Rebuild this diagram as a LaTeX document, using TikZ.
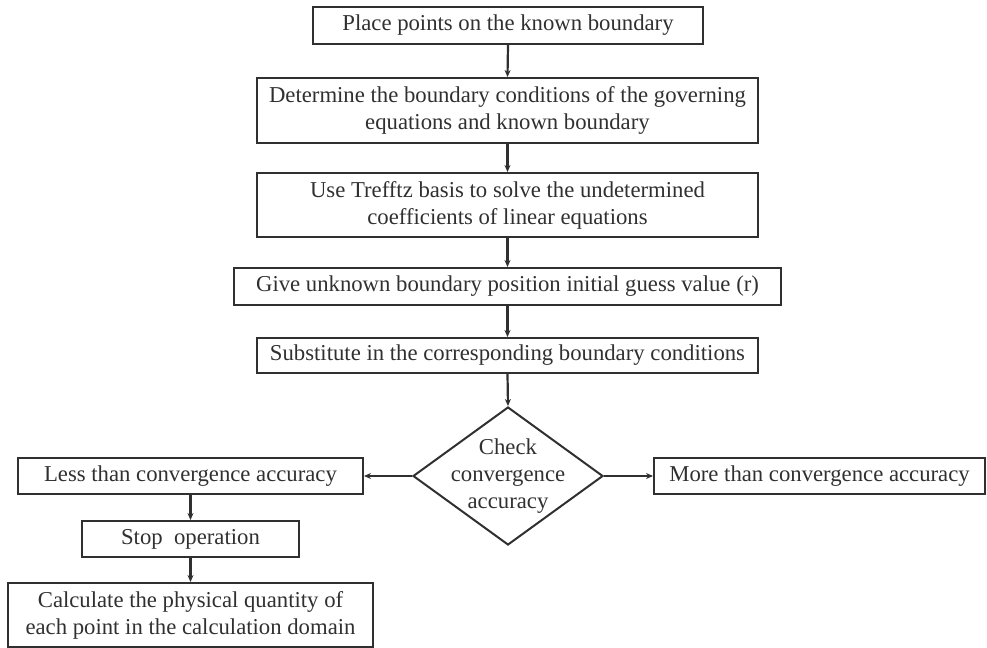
\documentclass[tikz,border=0pt]{standalone}
\usepackage{fontspec}
\setmainfont{Liberation Serif}
\usetikzlibrary{shapes.geometric,arrows.meta}
\definecolor{ink}{HTML}{303030}
\begin{document}
\begin{tikzpicture}[x=1bp,y=-1bp,
  txt/.style={text=ink,inner sep=0pt,align=center,font=\fontsize{22.8}{27}\selectfont},
  box/.style={txt,draw=ink,line width=2bp},
  dia/.style={draw=ink,line width=2bp,diamond,inner sep=0pt},
  arr/.style={draw=ink,line width=2.2bp,-{Stealth[length=7bp,width=6bp]}}]
\useasboundingbox (0,0) rectangle (987,648);
\node[box,minimum width=390bp,minimum height=37bp] (b1) at (508,25.5) {Place points on the known boundary};
\node[box,minimum width=501bp,minimum height=65bp] (b2) at (507.5,110.5) {Determine the boundary conditions of the governing\\equations and known boundary};
\node[box,minimum width=501bp,minimum height=64bp] (b3) at (507.5,205) {Use Trefftz basis to solve the undetermined\\coefficients of linear equations};
\node[box,minimum width=547bp,minimum height=37bp] (b4) at (507.5,286.5) {Give unknown boundary position initial guess value (r)};
\node[box,minimum width=501bp,minimum height=35bp] (b5) at (507.5,355.5) {Substitute in the corresponding boundary conditions};
\node[dia,minimum width=190bp,minimum height=138bp] (d) at (508,476) {};
\node[txt] (dt) at (508,476) {Check\\convergence\\accuracy};
\node[box,minimum width=345bp,minimum height=36bp] (l) at (190.5,476) {Less than convergence accuracy};
\node[box,minimum width=331bp,minimum height=36bp] (r) at (819.5,476) {More than convergence accuracy};
\node[box,minimum width=216bp,minimum height=36bp] (s) at (190.5,539) {Stop\ \ operation};
\node[box,minimum width=365bp,minimum height=64bp] (c) at (190.5,615) {Calculate the physical quantity of\\each point in the calculation domain};
\draw[arr] (b1.south) -- (b2.north);
\draw[arr] (b2.south) -- (b3.north);
\draw[arr] (b3.south) -- (b4.north);
\draw[arr] (b4.south) -- (b5.north);
\draw[arr] (b5.south) -- (d.north);
\draw[arr] (d.west) -- (l.east);
\draw[arr] (d.east) -- (r.west);
\draw[arr] (l.south) -- (s.north);
\draw[arr] (s.south) -- (c.north);
\end{tikzpicture}
\end{document}
